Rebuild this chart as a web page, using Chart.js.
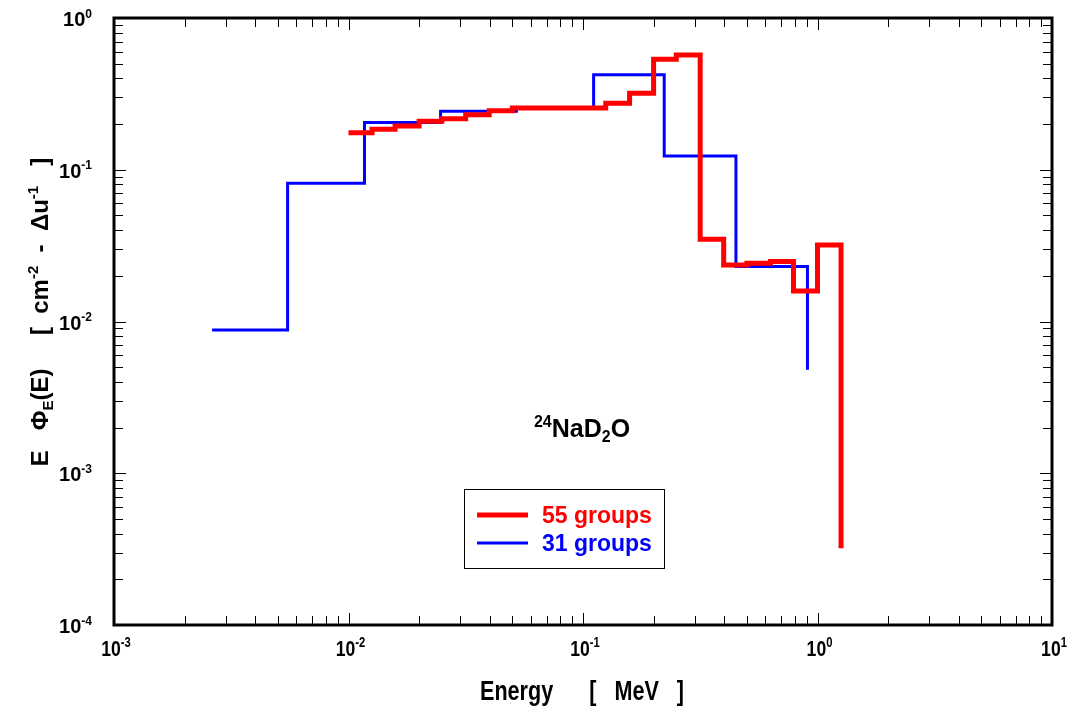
<!DOCTYPE html>
<html>
<head>
<meta charset="utf-8">
<script src="https://cdn.jsdelivr.net/npm/chart.js@4.4.0/dist/chart.umd.min.js"></script>
<style>
  body { margin: 0; background: #fff; }
  canvas { display: block; }
</style>
</head>
<body>
<canvas id="spectrum" width="1071" height="713"></canvas>
<script>
// left group edge [MeV] and E*Phi(E) per group; last point is where the line drops
const redEnergy = [0.01, 0.0126, 0.0158, 0.02, 0.025, 0.0316, 0.0398, 0.05, 0.125, 0.158, 0.2, 0.25, 0.316, 0.398, 0.5, 0.63, 0.79, 1.0, 1.26];
const redFlux   = [0.175, 0.185, 0.194, 0.209, 0.217, 0.23, 0.245, 0.255, 0.274, 0.319, 0.534, 0.57, 0.0348, 0.0236, 0.0242, 0.0249, 0.0159, 0.0319, 0.00032];

const blueEnergy = [0.00262, 0.0055, 0.0117, 0.0247, 0.052, 0.111, 0.222, 0.449, 0.906];
const blueFlux   = [0.0088, 0.0814, 0.205, 0.243, 0.253, 0.423, 0.123, 0.023, 0.0048];

const seriesLabels = ['55 groups', '31 groups'];

const xTickValues = [1e-3, 1e-2, 1e-1, 1, 10];
const xTickExps   = ['-3', '-2', '-1', '0', '1'];
const yTickValues = [1e-4, 1e-3, 1e-2, 1e-1, 1];
const yTickExps   = ['-4', '-3', '-2', '-1', '0'];

const FONT = '"Liberation Sans", Arial, sans-serif';


function toPoints(xs, ys) {
    return xs.map((x, i) => ({ x, y: ys[i] }));
}


// draws a run of text pieces: [text, 'n' | 'sup' | 'sub'], sx squeezes it sideways
function richText(ctx, parts, x, y, size, align, sx = 1) {
    const small = Math.round(size * 0.62);
    const widths = parts.map(p => {
        ctx.font = `bold ${p[1] === 'n' ? size : small}px ${FONT}`;
        return ctx.measureText(p[0]).width;
    });
    const total = widths.reduce((a, b) => a + b, 0) * sx;
    let x0 = align === 'right' ? x - total : align === 'left' ? x : x - total / 2;
    ctx.save();
    ctx.translate(x0, y);
    ctx.scale(sx, 1);
    ctx.textAlign = 'left';
    ctx.textBaseline = 'alphabetic';
    let cx = 0;
    parts.forEach((p, i) => {
        let dy = 0;
        if (p[1] === 'sup') dy = -size * 0.42;
        if (p[1] === 'sub') dy = size * 0.2;
        ctx.font = `bold ${p[1] === 'n' ? size : small}px ${FONT}`;
        ctx.fillText(p[0], cx, dy);
        cx += widths[i];
    });
    ctx.restore();
}


function decadeTicks(scale) {
    let ticks = [];
    const lo = Math.round(Math.log10(scale.min));
    const hi = Math.round(Math.log10(scale.max));
    for (let e = lo; e < hi; e++) {
        for (let m = 1; m <= 9; m++) ticks.push({ v: m * Math.pow(10, e), major: m === 1 });
    }
    ticks.push({ v: scale.max, major: true });
    return ticks;
}


const framePlugin = {
    id: 'frame',
    afterDraw(chart) {
        const { ctx, chartArea: a } = chart;
        const xs = chart.scales.x, ys = chart.scales.y;
        ctx.save();
        ctx.fillStyle = '#000';
        ctx.strokeStyle = '#000';

        // ticks on all four sides, pointing inwards
        ctx.lineWidth = 1;
        ctx.beginPath();
        decadeTicks(xs).forEach(t => {
            const px = Math.round(xs.getPixelForValue(t.v)) + 0.5;
            const len = t.major ? 12 : 9;
            ctx.moveTo(px, a.bottom); ctx.lineTo(px, a.bottom - len);
            ctx.moveTo(px, a.top);    ctx.lineTo(px, a.top + len);
        });
        decadeTicks(ys).forEach(t => {
            const py = Math.round(ys.getPixelForValue(t.v)) + 0.5;
            const len = t.major ? 12 : 9;
            ctx.moveTo(a.left, py);  ctx.lineTo(a.left + len, py);
            ctx.moveTo(a.right, py); ctx.lineTo(a.right - len, py);
        });
        ctx.stroke();

        ctx.lineWidth = 3;
        ctx.strokeRect(a.left, a.top, a.right - a.left, a.bottom - a.top);

        // tick labels
        xTickValues.forEach((v, i) => {
            richText(ctx, [['10', 'n'], [xTickExps[i], 'sup']], xs.getPixelForValue(v) + 2, a.bottom + 31, 22, 'center', 0.8);
        });
        yTickValues.forEach((v, i) => {
            richText(ctx, [['10', 'n'], [yTickExps[i], 'sup']], a.left - 22, ys.getPixelForValue(v) + 8, 20, 'right');
        });

        // axis titles
        richText(ctx, [['Energy      [   MeV   ]', 'n']], 582, 700, 27, 'center', 0.8);

        ctx.save();
        ctx.translate(48, 312);
        ctx.rotate(-Math.PI / 2);
        richText(ctx, [
            ['E   \u03A6', 'n'], ['E', 'sub'], ['(E)     [  cm', 'n'], ['-2', 'sup'],
            ['  -  \u0394u', 'n'], ['-1', 'sup'], ['   ]', 'n']
        ], 0, 0, 24, 'center');
        ctx.restore();

        // nuclide label
        richText(ctx, [['24', 'sup'], ['NaD', 'n'], ['2', 'sub'], ['O', 'n']], 582, 437, 25, 'center');

        // legend box
        ctx.lineWidth = 1;
        ctx.strokeRect(464.5, 489.5, 200, 79);
        chart.data.datasets.forEach((ds, i) => {
            const ly = 515 + i * 28;
            ctx.strokeStyle = ds.borderColor;
            ctx.lineWidth = ds.borderWidth;
            ctx.beginPath();
            ctx.moveTo(477, ly); ctx.lineTo(528, ly);
            ctx.stroke();
            ctx.fillStyle = ds.borderColor;
            richText(ctx, [[ds.label, 'n']], 542, ly + 8, 23, 'left');
        });
        ctx.restore();
    }
};


new Chart(document.getElementById('spectrum'), {
    type: 'line',
    data: {
        datasets: [
            {
                label: seriesLabels[0],
                data: toPoints(redEnergy, redFlux),
                borderColor: '#ff0000',
                borderWidth: 5,
                stepped: 'before',
                pointRadius: 0,
                fill: false
            },
            {
                label: seriesLabels[1],
                data: toPoints(blueEnergy, blueFlux),
                borderColor: '#0000ff',
                borderWidth: 3,
                stepped: 'before',
                pointRadius: 0,
                fill: false
            }
        ]
    },
    options: {
        responsive: false,
        animation: false,
        layout: { padding: { top: 18, right: 19, left: 0, bottom: 0 } },
        plugins: { legend: { display: false }, tooltip: { enabled: false } },
        scales: {
            x: {
                type: 'logarithmic', min: 1e-3, max: 10,
                grid: { display: false }, border: { display: false },
                ticks: { display: false },
                afterFit(s) { s.height = 88; }
            },
            y: {
                type: 'logarithmic', min: 1e-4, max: 1,
                grid: { display: false }, border: { display: false },
                ticks: { display: false },
                afterFit(s) { s.width = 114; }
            }
        }
    },
    plugins: [framePlugin]
});
</script>
</body>
</html>
